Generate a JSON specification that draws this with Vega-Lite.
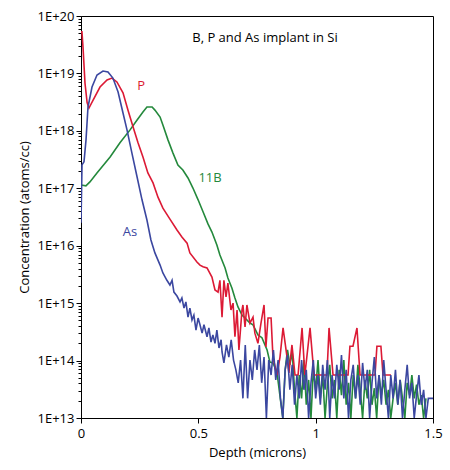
{
  "$schema": "https://vega.github.io/schema/vega-lite/v6.json",
  "width": 352,
  "height": 402,
  "autosize": {"type": "none"},
  "padding": {"left": 81, "top": 16, "right": 17, "bottom": 52},
  "config": {
    "font": "Open Sans",
    "view": {"stroke": "#000000", "strokeWidth": 1},
    "axis": {
      "domainColor": "#000000",
      "tickColor": "#000000",
      "labelColor": "#000000",
      "titleColor": "#000000",
      "labelFontSize": 13,
      "titleFontSize": 13,
      "titleFontWeight": "normal",
      "grid": false,
      "labelFont": "Open Sans",
      "titleFont": "Open Sans"
    }
  },
  "datasets": {
    "sims": [
      {"s": "P", "x": 0, "y": 5.3e19},
      {"s": "P", "x": 0.004, "y": 5.3e19},
      {"s": "P", "x": 0.0085, "y": 2.9e19},
      {"s": "P", "x": 0.017, "y": 6.8e18},
      {"s": "P", "x": 0.026, "y": 3.1e18},
      {"s": "P", "x": 0.034, "y": 2.5e18},
      {"s": "P", "x": 0.051, "y": 3.4e18},
      {"s": "P", "x": 0.081, "y": 5.8e18},
      {"s": "P", "x": 0.111, "y": 7.7e18},
      {"s": "P", "x": 0.132, "y": 8.3e18},
      {"s": "P", "x": 0.153, "y": 7.1e18},
      {"s": "P", "x": 0.179, "y": 4.6e18},
      {"s": "P", "x": 0.2, "y": 2.3e18},
      {"s": "P", "x": 0.222, "y": 1.17e18},
      {"s": "P", "x": 0.243, "y": 6.2e17},
      {"s": "P", "x": 0.264, "y": 3.5e17},
      {"s": "P", "x": 0.285, "y": 1.85e17},
      {"s": "P", "x": 0.307, "y": 1.24e17},
      {"s": "P", "x": 0.328, "y": 7.0e16},
      {"s": "P", "x": 0.349, "y": 4.5e16},
      {"s": "P", "x": 0.379, "y": 2.9e16},
      {"s": "P", "x": 0.409, "y": 1.88e16},
      {"s": "P", "x": 0.43, "y": 1.42e16},
      {"s": "P", "x": 0.452, "y": 1.11e16},
      {"s": "P", "x": 0.464, "y": 7.5e15},
      {"s": "P", "x": 0.494, "y": 5.2e15},
      {"s": "P", "x": 0.507, "y": 4.6e15},
      {"s": "P", "x": 0.52, "y": 4.3e15},
      {"s": "P", "x": 0.537, "y": 4.1e15},
      {"s": "P", "x": 0.558, "y": 2.85e15},
      {"s": "P", "x": 0.571, "y": 1.7e15},
      {"s": "P", "x": 0.584, "y": 1.56e15},
      {"s": "P", "x": 0.592, "y": 2.5e15},
      {"s": "P", "x": 0.601, "y": 5.7e14},
      {"s": "P", "x": 0.609, "y": 2.5e15},
      {"s": "P", "x": 0.618, "y": 1.28e15},
      {"s": "P", "x": 0.626, "y": 2.24e15},
      {"s": "P", "x": 0.639, "y": 7.6e14},
      {"s": "P", "x": 0.648, "y": 1.0e15},
      {"s": "P", "x": 0.656, "y": 2.6e14},
      {"s": "P", "x": 0.665, "y": 7.6e14},
      {"s": "P", "x": 0.673, "y": 1.53e14},
      {"s": "P", "x": 0.686, "y": 7.6e14},
      {"s": "P", "x": 0.69, "y": 9.3e14},
      {"s": "P", "x": 0.699, "y": 3.85e14},
      {"s": "P", "x": 0.707, "y": 9.3e14},
      {"s": "P", "x": 0.72, "y": 4.5e14},
      {"s": "P", "x": 0.733, "y": 5.7e14},
      {"s": "P", "x": 0.741, "y": 3.0e14},
      {"s": "P", "x": 0.754, "y": 2.0e14},
      {"s": "P", "x": 0.767, "y": 4.5e14},
      {"s": "P", "x": 0.78, "y": 9.3e14},
      {"s": "P", "x": 0.788, "y": 1.72e14},
      {"s": "P", "x": 0.797, "y": 5.5e14},
      {"s": "P", "x": 0.81, "y": 5.5e14},
      {"s": "P", "x": 0.818, "y": 1.15e14},
      {"s": "P", "x": 0.835, "y": 5.6e13},
      {"s": "P", "x": 0.848, "y": 1.15e14},
      {"s": "P", "x": 0.861, "y": 3.7e14},
      {"s": "P", "x": 0.878, "y": 1.15e14},
      {"s": "P", "x": 0.886, "y": 6.1e13},
      {"s": "P", "x": 0.899, "y": 1.87e14},
      {"s": "P", "x": 0.912, "y": 5.6e13},
      {"s": "P", "x": 0.925, "y": 5.6e13},
      {"s": "P", "x": 0.942, "y": 3.7e14},
      {"s": "P", "x": 0.954, "y": 5.6e13},
      {"s": "P", "x": 0.976, "y": 3.7e14},
      {"s": "P", "x": 0.993, "y": 5.6e13},
      {"s": "P", "x": 1.048, "y": 5.6e13},
      {"s": "P", "x": 1.057, "y": 3.7e14},
      {"s": "P", "x": 1.074, "y": 5.6e13},
      {"s": "P", "x": 1.138, "y": 5.6e13},
      {"s": "P", "x": 1.146, "y": 1.78e14},
      {"s": "P", "x": 1.159, "y": 1.78e14},
      {"s": "P", "x": 1.176, "y": 3.7e14},
      {"s": "P", "x": 1.189, "y": 5.6e13},
      {"s": "P", "x": 1.253, "y": 5.6e13},
      {"s": "P", "x": 1.261, "y": 1.78e14},
      {"s": "P", "x": 1.278, "y": 1.78e14},
      {"s": "P", "x": 1.287, "y": 5.6e13},
      {"s": "P", "x": 1.321, "y": 5.6e13},

      {"s": "B", "x": 0, "y": 1.14e17},
      {"s": "B", "x": 0.021, "y": 1.1e17},
      {"s": "B", "x": 0.038, "y": 1.29e17},
      {"s": "B", "x": 0.068, "y": 1.85e17},
      {"s": "B", "x": 0.124, "y": 3.5e17},
      {"s": "B", "x": 0.166, "y": 6.2e17},
      {"s": "B", "x": 0.209, "y": 1.04e18},
      {"s": "B", "x": 0.239, "y": 1.55e18},
      {"s": "B", "x": 0.264, "y": 2.13e18},
      {"s": "B", "x": 0.281, "y": 2.6e18},
      {"s": "B", "x": 0.303, "y": 2.6e18},
      {"s": "B", "x": 0.315, "y": 2.3e18},
      {"s": "B", "x": 0.337, "y": 1.74e18},
      {"s": "B", "x": 0.349, "y": 1.26e18},
      {"s": "B", "x": 0.371, "y": 6.9e17},
      {"s": "B", "x": 0.392, "y": 4.1e17},
      {"s": "B", "x": 0.413, "y": 2.55e17},
      {"s": "B", "x": 0.434, "y": 2.08e17},
      {"s": "B", "x": 0.456, "y": 1.51e17},
      {"s": "B", "x": 0.477, "y": 1.01e17},
      {"s": "B", "x": 0.499, "y": 6.3e16},
      {"s": "B", "x": 0.52, "y": 3.9e16},
      {"s": "B", "x": 0.541, "y": 2.4e16},
      {"s": "B", "x": 0.558, "y": 1.73e16},
      {"s": "B", "x": 0.579, "y": 1.03e16},
      {"s": "B", "x": 0.592, "y": 6.9e15},
      {"s": "B", "x": 0.614, "y": 4.1e15},
      {"s": "B", "x": 0.626, "y": 2.74e15},
      {"s": "B", "x": 0.643, "y": 1.84e15},
      {"s": "B", "x": 0.656, "y": 1.23e15},
      {"s": "B", "x": 0.669, "y": 8.6e14},
      {"s": "B", "x": 0.686, "y": 6.2e14},
      {"s": "B", "x": 0.699, "y": 5.5e14},
      {"s": "B", "x": 0.72, "y": 4.5e14},
      {"s": "B", "x": 0.733, "y": 4.2e14},
      {"s": "B", "x": 0.754, "y": 2.8e14},
      {"s": "B", "x": 0.771, "y": 2.5e14},
      {"s": "B", "x": 0.793, "y": 1.53e14},
      {"s": "B", "x": 0.805, "y": 9.4e13},
      {"s": "B", "x": 0.818, "y": 9.1e13},
      {"s": "B", "x": 0.835, "y": 6.3e13},
      {"s": "B", "x": 0.85, "y": 2.06e13},
      {"s": "B", "x": 0.86, "y": 1e13},
      {"s": "B", "x": 0.87, "y": 6.9e13},
      {"s": "B", "x": 0.88, "y": 1.53e14},
      {"s": "B", "x": 0.89, "y": 8.4e13},
      {"s": "B", "x": 0.9, "y": 1.41e14},
      {"s": "B", "x": 0.91, "y": 3.1e13},
      {"s": "B", "x": 0.92, "y": 1e13},
      {"s": "B", "x": 0.93, "y": 5.6e13},
      {"s": "B", "x": 0.94, "y": 2.2e13},
      {"s": "B", "x": 0.95, "y": 1.02e14},
      {"s": "B", "x": 0.96, "y": 1.7e13},
      {"s": "B", "x": 0.97, "y": 4.6e13},
      {"s": "B", "x": 0.98, "y": 1e13},
      {"s": "B", "x": 0.99, "y": 6.9e13},
      {"s": "B", "x": 1.0, "y": 3.1e13},
      {"s": "B", "x": 1.01, "y": 1.02e14},
      {"s": "B", "x": 1.02, "y": 2.2e13},
      {"s": "B", "x": 1.03, "y": 5.6e13},
      {"s": "B", "x": 1.04, "y": 1e13},
      {"s": "B", "x": 1.05, "y": 3.8e13},
      {"s": "B", "x": 1.06, "y": 8.4e13},
      {"s": "B", "x": 1.07, "y": 2.2e13},
      {"s": "B", "x": 1.08, "y": 4.6e13},
      {"s": "B", "x": 1.09, "y": 1e13},
      {"s": "B", "x": 1.1, "y": 6.9e13},
      {"s": "B", "x": 1.11, "y": 2.5e13},
      {"s": "B", "x": 1.12, "y": 1.02e14},
      {"s": "B", "x": 1.13, "y": 1.7e13},
      {"s": "B", "x": 1.14, "y": 4.1e13},
      {"s": "B", "x": 1.15, "y": 1e13},
      {"s": "B", "x": 1.16, "y": 5.6e13},
      {"s": "B", "x": 1.17, "y": 2.2e13},
      {"s": "B", "x": 1.18, "y": 8.4e13},
      {"s": "B", "x": 1.19, "y": 3.1e13},
      {"s": "B", "x": 1.2, "y": 1e13},
      {"s": "B", "x": 1.21, "y": 4.6e13},
      {"s": "B", "x": 1.22, "y": 2.2e13},
      {"s": "B", "x": 1.23, "y": 6.9e13},
      {"s": "B", "x": 1.24, "y": 1.7e13},
      {"s": "B", "x": 1.25, "y": 3.3e13},
      {"s": "B", "x": 1.26, "y": 1e13},
      {"s": "B", "x": 1.27, "y": 5.6e13},
      {"s": "B", "x": 1.28, "y": 2.5e13},
      {"s": "B", "x": 1.29, "y": 4.6e13},
      {"s": "B", "x": 1.3, "y": 1.7e13},
      {"s": "B", "x": 1.31, "y": 3.1e13},
      {"s": "B", "x": 1.32, "y": 1e13},
      {"s": "B", "x": 1.33, "y": 2.2e13},
      {"s": "B", "x": 1.34, "y": 4.1e13},
      {"s": "B", "x": 1.35, "y": 1.7e13},
      {"s": "B", "x": 1.36, "y": 4.6e13},
      {"s": "B", "x": 1.37, "y": 2.2e13},
      {"s": "B", "x": 1.38, "y": 1e13},
      {"s": "B", "x": 1.39, "y": 4.1e13},
      {"s": "B", "x": 1.4, "y": 2.5e13},
      {"s": "B", "x": 1.41, "y": 5.6e13},
      {"s": "B", "x": 1.42, "y": 2.2e13},
      {"s": "B", "x": 1.43, "y": 3.8e13},
      {"s": "B", "x": 1.44, "y": 1.7e13},
      {"s": "B", "x": 1.45, "y": 2.5e13},
      {"s": "B", "x": 1.46, "y": 1e13},
      {"s": "B", "x": 1.47, "y": 2.2e13},

      {"s": "As", "x": 0, "y": 2.5e16},
      {"s": "As", "x": 0.0043, "y": 2.55e17},
      {"s": "As", "x": 0.0128, "y": 2.9e17},
      {"s": "As", "x": 0.0213, "y": 6.9e17},
      {"s": "As", "x": 0.0298, "y": 2.6e18},
      {"s": "As", "x": 0.0469, "y": 5.8e18},
      {"s": "As", "x": 0.0682, "y": 9.4e18},
      {"s": "As", "x": 0.0937, "y": 1.1e19},
      {"s": "As", "x": 0.115, "y": 1.06e19},
      {"s": "As", "x": 0.136, "y": 8.3e18},
      {"s": "As", "x": 0.158, "y": 4.75e18},
      {"s": "As", "x": 0.179, "y": 2.05e18},
      {"s": "As", "x": 0.196, "y": 1.04e18},
      {"s": "As", "x": 0.217, "y": 4.1e17},
      {"s": "As", "x": 0.239, "y": 1.57e17},
      {"s": "As", "x": 0.26, "y": 6.3e16},
      {"s": "As", "x": 0.281, "y": 2.8e16},
      {"s": "As", "x": 0.298, "y": 1.26e16},
      {"s": "As", "x": 0.315, "y": 7.5e15},
      {"s": "As", "x": 0.337, "y": 4.6e15},
      {"s": "As", "x": 0.349, "y": 3.35e15},
      {"s": "As", "x": 0.366, "y": 2.5e15},
      {"s": "As", "x": 0.379, "y": 2.07e15},
      {"s": "As", "x": 0.388, "y": 2.5e15},
      {"s": "As", "x": 0.396, "y": 1.56e15},
      {"s": "As", "x": 0.409, "y": 1.33e15},
      {"s": "As", "x": 0.422, "y": 1.05e15},
      {"s": "As", "x": 0.43, "y": 1.23e15},
      {"s": "As", "x": 0.439, "y": 8.2e14},
      {"s": "As", "x": 0.447, "y": 1.05e15},
      {"s": "As", "x": 0.456, "y": 5.7e14},
      {"s": "As", "x": 0.464, "y": 8.2e14},
      {"s": "As", "x": 0.473, "y": 5.1e14},
      {"s": "As", "x": 0.481, "y": 6.2e14},
      {"s": "As", "x": 0.49, "y": 3.4e14},
      {"s": "As", "x": 0.499, "y": 5.5e14},
      {"s": "As", "x": 0.507, "y": 4.2e14},
      {"s": "As", "x": 0.516, "y": 3.0e14},
      {"s": "As", "x": 0.524, "y": 4.2e14},
      {"s": "As", "x": 0.537, "y": 2.6e14},
      {"s": "As", "x": 0.545, "y": 3.7e14},
      {"s": "As", "x": 0.554, "y": 2.1e14},
      {"s": "As", "x": 0.562, "y": 2.8e14},
      {"s": "As", "x": 0.571, "y": 2.0e14},
      {"s": "As", "x": 0.579, "y": 3.4e14},
      {"s": "As", "x": 0.588, "y": 1.66e14},
      {"s": "As", "x": 0.597, "y": 2.3e14},
      {"s": "As", "x": 0.601, "y": 1.41e14},
      {"s": "As", "x": 0.609, "y": 9.1e13},
      {"s": "As", "x": 0.62, "y": 1.87e14},
      {"s": "As", "x": 0.63, "y": 1.15e14},
      {"s": "As", "x": 0.64, "y": 2.3e14},
      {"s": "As", "x": 0.65, "y": 1.02e14},
      {"s": "As", "x": 0.66, "y": 6.9e13},
      {"s": "As", "x": 0.67, "y": 4.1e13},
      {"s": "As", "x": 0.68, "y": 1.02e14},
      {"s": "As", "x": 0.69, "y": 2.2e13},
      {"s": "As", "x": 0.7, "y": 1.87e14},
      {"s": "As", "x": 0.71, "y": 2.2e13},
      {"s": "As", "x": 0.72, "y": 1.02e14},
      {"s": "As", "x": 0.73, "y": 4.6e13},
      {"s": "As", "x": 0.74, "y": 1.53e14},
      {"s": "As", "x": 0.75, "y": 6.9e13},
      {"s": "As", "x": 0.76, "y": 1.87e14},
      {"s": "As", "x": 0.77, "y": 4.1e13},
      {"s": "As", "x": 0.78, "y": 1.15e14},
      {"s": "As", "x": 0.79, "y": 1e13},
      {"s": "As", "x": 0.8, "y": 1.02e14},
      {"s": "As", "x": 0.81, "y": 5.6e13},
      {"s": "As", "x": 0.82, "y": 1.53e14},
      {"s": "As", "x": 0.83, "y": 4.6e13},
      {"s": "As", "x": 0.84, "y": 1.02e14},
      {"s": "As", "x": 0.85, "y": 2.2e13},
      {"s": "As", "x": 0.86, "y": 1e13},
      {"s": "As", "x": 0.87, "y": 6.9e13},
      {"s": "As", "x": 0.88, "y": 1.25e14},
      {"s": "As", "x": 0.89, "y": 3.1e13},
      {"s": "As", "x": 0.9, "y": 8.4e13},
      {"s": "As", "x": 0.91, "y": 1.7e13},
      {"s": "As", "x": 0.92, "y": 5.6e13},
      {"s": "As", "x": 0.93, "y": 2.2e13},
      {"s": "As", "x": 0.94, "y": 1.02e14},
      {"s": "As", "x": 0.95, "y": 3.1e13},
      {"s": "As", "x": 0.96, "y": 6.9e13},
      {"s": "As", "x": 0.97, "y": 1e13},
      {"s": "As", "x": 0.98, "y": 4.1e13},
      {"s": "As", "x": 0.99, "y": 1.02e14},
      {"s": "As", "x": 1.0, "y": 2.2e13},
      {"s": "As", "x": 1.01, "y": 5.6e13},
      {"s": "As", "x": 1.02, "y": 1.7e13},
      {"s": "As", "x": 1.03, "y": 8.4e13},
      {"s": "As", "x": 1.04, "y": 3.1e13},
      {"s": "As", "x": 1.05, "y": 1.02e14},
      {"s": "As", "x": 1.06, "y": 1e13},
      {"s": "As", "x": 1.07, "y": 5.6e13},
      {"s": "As", "x": 1.08, "y": 2.2e13},
      {"s": "As", "x": 1.09, "y": 8.4e13},
      {"s": "As", "x": 1.1, "y": 3.1e13},
      {"s": "As", "x": 1.11, "y": 1.25e14},
      {"s": "As", "x": 1.12, "y": 2.2e13},
      {"s": "As", "x": 1.13, "y": 6.9e13},
      {"s": "As", "x": 1.14, "y": 1e13},
      {"s": "As", "x": 1.15, "y": 4.6e13},
      {"s": "As", "x": 1.16, "y": 8.4e13},
      {"s": "As", "x": 1.17, "y": 2.2e13},
      {"s": "As", "x": 1.18, "y": 5.6e13},
      {"s": "As", "x": 1.19, "y": 1.7e13},
      {"s": "As", "x": 1.2, "y": 9.1e13},
      {"s": "As", "x": 1.21, "y": 3.1e13},
      {"s": "As", "x": 1.22, "y": 6.9e13},
      {"s": "As", "x": 1.23, "y": 1e13},
      {"s": "As", "x": 1.24, "y": 4.1e13},
      {"s": "As", "x": 1.25, "y": 1.15e14},
      {"s": "As", "x": 1.26, "y": 2.2e13},
      {"s": "As", "x": 1.27, "y": 5.6e13},
      {"s": "As", "x": 1.28, "y": 1.7e13},
      {"s": "As", "x": 1.29, "y": 1.02e14},
      {"s": "As", "x": 1.3, "y": 3.1e13},
      {"s": "As", "x": 1.31, "y": 1e13},
      {"s": "As", "x": 1.32, "y": 5.6e13},
      {"s": "As", "x": 1.33, "y": 2.2e13},
      {"s": "As", "x": 1.34, "y": 6.9e13},
      {"s": "As", "x": 1.35, "y": 1.7e13},
      {"s": "As", "x": 1.36, "y": 4.6e13},
      {"s": "As", "x": 1.37, "y": 1e13},
      {"s": "As", "x": 1.38, "y": 3.1e13},
      {"s": "As", "x": 1.39, "y": 8.4e13},
      {"s": "As", "x": 1.4, "y": 2.2e13},
      {"s": "As", "x": 1.41, "y": 4.1e13},
      {"s": "As", "x": 1.42, "y": 1e13},
      {"s": "As", "x": 1.43, "y": 2.5e13},
      {"s": "As", "x": 1.44, "y": 5.6e13},
      {"s": "As", "x": 1.45, "y": 1.7e13},
      {"s": "As", "x": 1.46, "y": 3.1e13},
      {"s": "As", "x": 1.47, "y": 1e13},
      {"s": "As", "x": 1.48, "y": 2.2e13},
      {"s": "As", "x": 1.49, "y": 2.2e13},
      {"s": "As", "x": 1.5, "y": 2.2e13}
    ],
    "labels": [
      {"label": "B, P and As implant in Si", "s": "title", "x": 0.784, "y": 4.1e19},
      {"label": "P", "s": "P", "x": 0.256, "y": 6.0e18},
      {"label": "11B", "s": "B", "x": 0.55, "y": 1.5e17},
      {"label": "As", "s": "As", "x": 0.209, "y": 1.73e16}
    ]
  },
  "layer": [
    {
      "data": {"name": "sims"},
      "transform": [{"filter": "datum.s === 'B'"}],
      "mark": {"type": "line", "color": "#24893c", "strokeWidth": 1.6, "clip": true},
      "encoding": {
        "x": {
          "field": "x",
          "type": "quantitative",
          "scale": {"domain": [0, 1.5], "nice": false, "zero": false},
          "axis": {
            "title": "Depth (microns)",
            "values": [0, 0.5, 1, 1.5],
            "format": "~g",
            "tickSize": 5,
            "labelFlush": false,
            "labelPadding": 4,
            "titlePadding": 6
          }
        },
        "y": {
          "field": "y",
          "type": "quantitative",
          "scale": {"type": "log", "domain": [1e13, 1e20], "nice": false, "clamp": true},
          "axis": {
            "title": "Concentration (atoms/cc)",
            "values": [1e13, 2e13, 3e13, 4e13, 5e13, 6e13, 7e13, 8e13, 9e13,
                       1e14, 2e14, 3e14, 4e14, 5e14, 6e14, 7e14, 8e14, 9e14,
                       1e15, 2e15, 3e15, 4e15, 5e15, 6e15, 7e15, 8e15, 9e15,
                       1e16, 2e16, 3e16, 4e16, 5e16, 6e16, 7e16, 8e16, 9e16,
                       1e17, 2e17, 3e17, 4e17, 5e17, 6e17, 7e17, 8e17, 9e17,
                       1e18, 2e18, 3e18, 4e18, 5e18, 6e18, 7e18, 8e18, 9e18,
                       1e19, 2e19, 3e19, 4e19, 5e19, 6e19, 7e19, 8e19, 9e19,
                       1e20],
            "labelExpr": "abs(log(datum.value)/LN10 - round(log(datum.value)/LN10)) < 0.001 ? '1E+' + round(log(datum.value)/LN10) : ''",
            "tickSize": {"condition": {"test": "abs(log(datum.value)/LN10 - round(log(datum.value)/LN10)) < 0.001", "value": 5}, "value": 3},
            "labelOverlap": false,
            "labelFlush": false,
            "labelPadding": 2,
            "titlePadding": 6
          }
        }
      }
    },
    {
      "data": {"name": "sims"},
      "transform": [{"filter": "datum.s === 'P'"}],
      "mark": {"type": "line", "color": "#dc1a35", "strokeWidth": 1.6, "clip": true},
      "encoding": {
        "x": {"field": "x", "type": "quantitative"},
        "y": {"field": "y", "type": "quantitative"}
      }
    },
    {
      "data": {"name": "sims"},
      "transform": [{"filter": "datum.s === 'As'"}],
      "mark": {"type": "line", "color": "#3b47a0", "strokeWidth": 1.6, "clip": true},
      "encoding": {
        "x": {"field": "x", "type": "quantitative"},
        "y": {"field": "y", "type": "quantitative"}
      }
    },
    {
      "data": {"name": "labels"},
      "transform": [{"filter": "datum.s === 'title'"}],
      "mark": {"type": "text", "fontSize": 13, "align": "center", "baseline": "middle", "font": "Open Sans", "color": "#000000"},
      "encoding": {
        "x": {"field": "x", "type": "quantitative"},
        "y": {"field": "y", "type": "quantitative"},
        "text": {"field": "label"}
      }
    },
    {
      "data": {"name": "labels"},
      "transform": [{"filter": "datum.s === 'P'"}],
      "mark": {"type": "text", "fontSize": 13, "align": "center", "baseline": "middle", "font": "Open Sans", "color": "#dc1a35"},
      "encoding": {
        "x": {"field": "x", "type": "quantitative"},
        "y": {"field": "y", "type": "quantitative"},
        "text": {"field": "label"}
      }
    },
    {
      "data": {"name": "labels"},
      "transform": [{"filter": "datum.s === 'B'"}],
      "mark": {"type": "text", "fontSize": 13, "align": "center", "baseline": "middle", "font": "Open Sans", "color": "#24893c"},
      "encoding": {
        "x": {"field": "x", "type": "quantitative"},
        "y": {"field": "y", "type": "quantitative"},
        "text": {"field": "label"}
      }
    },
    {
      "data": {"name": "labels"},
      "transform": [{"filter": "datum.s === 'As'"}],
      "mark": {"type": "text", "fontSize": 13, "align": "center", "baseline": "middle", "font": "Open Sans", "color": "#3b47a0"},
      "encoding": {
        "x": {"field": "x", "type": "quantitative"},
        "y": {"field": "y", "type": "quantitative"},
        "text": {"field": "label"}
      }
    }
  ]
}
